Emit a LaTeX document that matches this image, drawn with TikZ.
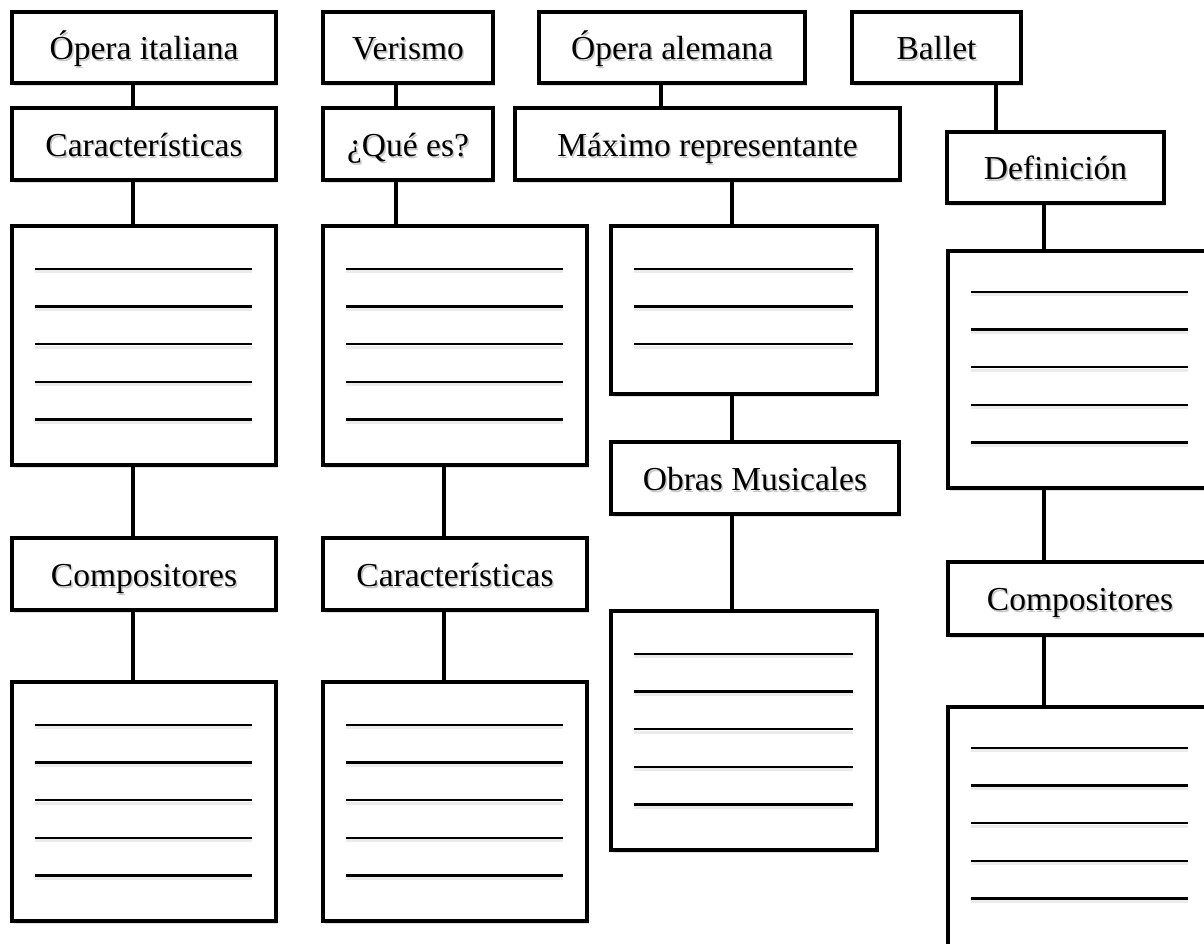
\documentclass[tikz,border=0pt]{standalone}
\usepackage{fontspec}
\setmainfont{Liberation Serif}
\usetikzlibrary{shadows}
\newcommand\sh[1]{\makebox[0pt][l]{\raisebox{-2pt}{\hspace{1.5pt}\textcolor{black!22}{#1}}}#1}
\tikzset{
  box/.style={draw=black, line width=4.5pt, fill=white, rectangle, inner sep=0pt,
    text height=24pt, text depth=0pt, font=\fontsize{33.5}{40}\selectfont,
    drop shadow={shadow xshift=1.5pt, shadow yshift=-3pt, opacity=0.25}},
  conn/.style={line width=4.5pt, draw=black},
  blank/.style={line width=2.4pt, draw=black},
  blankshadow/.style={line width=3pt, draw=black, opacity=0.08},
}
\newcommand\bx[6]{\node[box, minimum width=#4pt, minimum height=#5pt] (#1) at (#2,#3) {\sh{#6}};}
\newcommand\blanks[3]{%
  \foreach \k in {1,...,#2}{%
    \pgfmathsetmacro\dy{#3+37.7*(\k-1)}%
    \draw[blankshadow] ([xshift=25pt,yshift=-\dy pt-3pt]#1.north west) -- ([xshift=-26pt,yshift=-\dy pt-3pt]#1.north east);
    \draw[blank] ([xshift=25pt,yshift=-\dy pt]#1.north west) -- ([xshift=-26pt,yshift=-\dy pt]#1.north east);
  }}
\begin{document}
\begin{tikzpicture}[x=1pt,y=-1pt]
\useasboundingbox (0,0) rectangle (1204,943);
\begin{scope}
\clip (0,0) rectangle (1204,943);
% column 1
\bx{A1}{144}{47.5}{264}{71}{Ópera italiana}
\bx{A2}{144}{144}{264}{72}{Características}
\bx{A3}{144}{345.5}{264}{239}{}
\bx{A4}{144}{574}{264}{72}{Compositores}
\bx{A5}{144}{801.5}{264}{239}{}
% column 2
\bx{B1}{408}{47.5}{170}{71}{Verismo}
\bx{B2}{408}{144}{170}{72}{¿Qué es?}
\bx{B3}{455}{345.5}{264}{239}{}
\bx{B4}{455}{574}{264}{72}{Características}
\bx{B5}{455}{801.5}{264}{239}{}
% column 3
\bx{C1}{672}{47.5}{266}{71}{Ópera alemana}
\bx{C2}{707.5}{144}{385}{72}{Máximo representante}
\bx{C3}{744}{310}{266}{168}{}
\bx{C4}{755}{478}{288}{72}{Obras Musicales}
\bx{C5}{744}{730.5}{266}{239}{}
% column 4
\bx{D1}{936.5}{47.5}{169}{71}{Ballet}
\bx{D2}{1055.5}{167.5}{217}{71}{Definición}
\bx{D3}{1080}{369.5}{264}{237}{}
\bx{D4}{1080}{598.5}{264}{73}{Compositores}
\bx{D5}{1080}{826.5}{264}{239}{}
% blank lines
\blanks{A3}{5}{45}
\blanks{A5}{5}{45}
\blanks{B3}{5}{45}
\blanks{B5}{5}{45}
\blanks{C3}{3}{45}
\blanks{C5}{5}{45}
\blanks{D3}{5}{43}
\blanks{D5}{5}{43}
% connectors
\draw[conn] ([xshift=-11pt]A1.south) -- ([xshift=-11pt]A2.north);
\draw[conn] ([xshift=-11pt]A2.south) -- ([xshift=-11pt]A3.north);
\draw[conn] ([xshift=-11pt]A3.south) -- ([xshift=-11pt]A4.north);
\draw[conn] ([xshift=-11pt]A4.south) -- ([xshift=-11pt]A5.north);
\draw[conn] ([xshift=-12pt]B1.south) -- ([xshift=-12pt]B2.north);
\draw[conn] ([xshift=-12pt]B2.south) -- ([xshift=-59pt]B3.north);
\draw[conn] ([xshift=-11pt]B3.south) -- ([xshift=-11pt]B4.north);
\draw[conn] ([xshift=-11pt]B4.south) -- ([xshift=-11pt]B5.north);
\draw[conn] ([xshift=-11pt]C1.south) -- ([xshift=-46.5pt]C2.north);
\draw[conn] ([xshift=24.5pt]C2.south) -- ([xshift=-12pt]C3.north);
\draw[conn] ([xshift=-12pt]C3.south) -- ([xshift=-23pt]C4.north);
\draw[conn] ([xshift=-23pt]C4.south) -- ([xshift=-12pt]C5.north);
\draw[conn] ([xshift=59.5pt]D1.south) -- ([xshift=-59.5pt]D2.north);
\draw[conn] ([xshift=-11.5pt]D2.south) -- ([xshift=-36pt]D3.north);
\draw[conn] ([xshift=-36pt]D3.south) -- ([xshift=-36pt]D4.north);
\draw[conn] ([xshift=-36pt]D4.south) -- ([xshift=-36pt]D5.north);
\end{scope}
\end{tikzpicture}
\end{document}
